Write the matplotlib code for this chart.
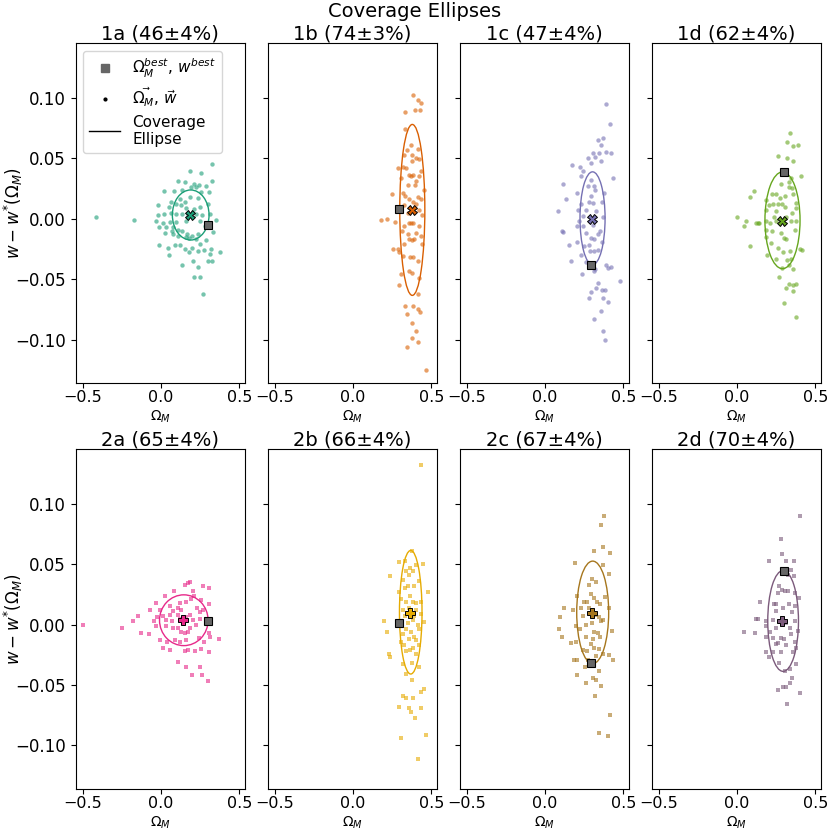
import os

os.environ.setdefault("MPLCONFIGDIR", "/tmp/matplotlib")

import matplotlib

matplotlib.use("Agg")
import matplotlib.pyplot as plt
from matplotlib.lines import Line2D
from matplotlib.patches import Ellipse

# sample points (Omega_M, w - w*(Omega_M)), one list per panel
pts_1a = [
    (-0.417, 0.001), (-0.170, -0.001), (0.326, 0.045), (0.187, 0.039), (0.255, 0.038),
    (0.109, 0.031), (0.151, 0.030), (0.328, 0.031), (0.209, 0.029), (0.243, 0.028),
    (0.017, 0.023), (0.081, 0.023), (0.136, 0.024), (0.194, 0.026), (0.226, 0.026), (0.289, 0.027),
    (0.066, 0.014), (0.119, 0.016), (0.151, 0.014), (0.187, 0.018), (0.234, 0.017), (0.257, 0.022),
    (0.306, 0.022), (-0.019, 0.011), (0.051, 0.010), (0.098, 0.012), (0.130, 0.011), (0.162, 0.009),
    (0.211, 0.008), (0.247, 0.010), (0.300, 0.012), (-0.019, 0.003), (0.019, 0.004), (0.066, 0.005),
    (0.098, 0.004), (0.136, 0.004), (0.172, 0.003), (0.221, 0.004), (0.264, 0.003), (0.311, 0.004),
    (-0.030, -0.002), (0.013, -0.004), (0.055, -0.003), (0.098, -0.003), (0.162, -0.002),
    (0.247, -0.002), (0.279, -0.006), (0.349, -0.001), (-0.013, -0.007), (0.034, -0.007),
    (0.077, -0.007), (0.109, -0.009), (0.136, -0.010), (0.166, -0.013), (0.200, -0.014),
    (0.236, -0.013), (0.332, -0.011), (0.023, -0.012), (0.072, -0.010), (0.077, -0.013),
    (0.109, -0.014), (0.162, -0.015), (0.179, -0.016), (0.226, -0.017), (0.289, -0.018),
    (-0.013, -0.022), (0.045, -0.024), (0.119, -0.022), (0.151, -0.025), (0.200, -0.024),
    (0.247, -0.021), (0.272, -0.026), (0.321, -0.025), (0.374, -0.028), (0.049, -0.030),
    (0.087, -0.022), (0.179, -0.028), (0.234, -0.027), (0.311, -0.029), (0.136, -0.038),
    (0.204, -0.035), (0.238, -0.040), (0.300, -0.035), (0.323, -0.035), (0.213, -0.048),
    (0.247, -0.048), (0.268, -0.062),
]
pts_1b = [
    (0.385, 0.102), (0.413, 0.098), (0.434, 0.096), (0.334, 0.088), (0.396, 0.090), (0.426, 0.0895),
    (0.334, 0.074), (0.372, 0.061), (0.345, 0.057), (0.417, 0.058), (0.328, 0.053), (0.379, 0.053),
    (0.404, 0.050), (0.423, 0.049), (0.377, 0.048), (0.317, 0.043), (0.285, 0.042), (0.338, 0.042),
    (0.355, 0.036), (0.370, 0.035), (0.385, 0.036), (0.419, 0.035), (0.434, 0.039), (0.306, 0.034),
    (0.402, 0.031), (0.398, 0.028), (0.349, 0.028), (0.247, 0.020), (0.317, 0.021), (0.334, 0.019),
    (0.413, 0.018), (0.455, 0.024), (0.360, 0.016), (0.381, 0.014), (0.434, 0.016), (0.328, 0.011),
    (0.402, 0.012), (0.179, -0.001), (0.215, 0.000), (0.266, -0.003), (0.349, 0.005), (0.423, 0.007),
    (0.440, 0.003), (0.355, -0.004), (0.370, -0.004), (0.385, -0.004), (0.328, -0.006),
    (0.419, -0.006), (0.313, -0.010), (0.434, -0.014), (0.349, -0.013), (0.402, -0.012),
    (0.360, -0.017), (0.377, -0.018), (0.391, -0.017), (0.440, -0.021), (0.257, -0.025),
    (0.285, -0.025), (0.296, -0.028), (0.328, -0.021), (0.321, -0.031), (0.364, -0.032),
    (0.381, -0.032), (0.417, -0.035), (0.360, -0.043), (0.377, -0.045), (0.306, -0.046),
    (0.423, -0.049), (0.296, -0.055), (0.413, -0.062), (0.334, -0.072), (0.385, -0.072),
    (0.413, -0.075), (0.345, -0.079), (0.430, -0.077), (0.377, -0.086), (0.402, -0.093),
    (0.374, -0.099), (0.413, -0.102), (0.345, -0.106), (0.464, -0.125),
]
pts_1c = [
    (0.391, 0.095), (0.413, 0.078), (0.372, 0.067), (0.336, 0.065), (0.360, 0.061), (0.391, 0.055),
    (0.421, 0.054), (0.304, 0.054), (0.347, 0.054), (0.272, 0.050), (0.319, 0.051), (0.357, 0.048),
    (0.172, 0.044), (0.223, 0.043), (0.294, 0.046), (0.240, 0.039), (0.432, 0.034), (0.113, 0.029),
    (0.232, 0.035), (0.291, 0.032), (0.311, 0.027), (0.274, 0.027), (0.202, 0.021), (0.319, 0.024),
    (0.377, 0.021), (0.291, 0.019), (0.134, 0.016), (0.230, 0.012), (0.283, 0.014), (0.309, 0.013),
    (0.362, 0.014), (0.209, 0.007), (0.262, 0.007), (0.326, 0.006), (0.083, 0.006), (0.219, -0.002),
    (0.245, 0.002), (0.372, 0.001), (0.106, -0.010), (0.113, -0.011), (0.204, -0.006),
    (0.240, -0.006), (0.304, -0.005), (0.340, -0.013), (0.262, -0.012), (0.294, -0.016),
    (0.315, -0.017), (0.351, -0.010), (0.155, -0.022), (0.204, -0.019), (0.247, -0.023),
    (0.279, -0.022), (0.364, -0.019), (0.230, -0.030), (0.287, -0.027), (0.315, -0.027),
    (0.340, -0.026), (0.164, -0.035), (0.262, -0.036), (0.391, -0.038), (0.423, -0.040),
    (0.404, -0.041), (0.319, -0.042), (0.234, -0.046), (0.311, -0.043), (0.481, -0.052),
    (0.340, -0.053), (0.326, -0.057), (0.362, -0.059), (0.383, -0.059), (0.294, -0.061),
    (0.283, -0.066), (0.372, -0.066), (0.404, -0.069), (0.357, -0.076), (0.311, -0.083),
    (0.372, -0.093), (0.381, -0.100),
]
pts_1d = [
    (0.340, 0.071), (0.319, 0.063), (0.357, 0.060), (0.389, 0.061), (0.260, 0.052), (0.319, 0.050),
    (0.357, 0.048), (0.343, 0.034), (0.409, 0.035), (0.283, 0.029), (0.332, 0.030), (0.353, 0.025),
    (0.357, 0.020), (0.332, 0.026), (0.111, 0.023), (0.081, 0.018), (0.223, 0.020), (0.251, 0.020),
    (0.272, 0.017), (0.187, 0.015), (0.304, 0.019), (0.374, 0.013), (0.230, 0.012), (0.204, 0.011),
    (0.262, 0.012), (0.289, 0.012), (0.304, 0.010), (0.379, 0.009), (0.187, 0.007), (0.251, 0.006),
    (0.234, 0.001), (0.353, 0.005), (0.000, 0.001), (0.060, -0.002), (0.043, -0.006),
    (0.119, -0.004), (0.134, -0.004), (0.140, -0.004), (0.183, -0.002), (0.209, -0.004),
    (0.251, -0.002), (0.315, 0.001), (0.347, -0.002), (0.379, -0.002), (0.187, -0.009),
    (0.226, -0.010), (0.279, -0.012), (0.298, -0.016), (0.315, -0.017), (0.368, -0.009),
    (0.187, -0.015), (0.219, -0.020), (0.262, -0.024), (0.081, -0.023), (0.294, -0.028),
    (0.336, -0.027), (0.400, -0.025), (0.417, -0.026), (0.251, -0.033), (0.319, -0.034),
    (0.347, -0.033), (0.191, -0.030), (0.289, -0.041), (0.332, -0.038), (0.357, -0.042),
    (0.268, -0.048), (0.332, -0.054), (0.357, -0.055), (0.379, -0.054), (0.315, -0.057),
    (0.357, -0.060), (0.300, -0.070), (0.379, -0.081),
]
pts_2a = [
    (-0.498, 0.000), (-0.247, -0.003), (-0.179, 0.003), (-0.149, 0.007), (-0.130, -0.007),
    (0.187, 0.035), (0.172, 0.034), (0.151, 0.033), (0.268, 0.032), (0.306, 0.030), (0.081, 0.028),
    (0.023, 0.024), (0.204, 0.028), (0.213, 0.024), (-0.030, 0.018), (0.119, 0.018), (0.162, 0.019),
    (0.194, 0.021), (0.257, 0.020), (0.306, 0.017), (0.060, 0.015), (0.109, 0.014), (0.230, 0.014),
    (0.268, 0.012), (-0.072, 0.012), (-0.009, 0.012), (0.077, 0.011), (0.130, 0.012),
    (-0.026, 0.006), (0.013, 0.007), (0.060, 0.008), (0.109, 0.008), (0.183, 0.008), (0.247, 0.010),
    (-0.045, 0.003), (0.034, 0.004), (0.072, 0.003), (0.119, 0.005), (0.162, 0.006), (0.204, 0.004),
    (0.247, 0.005), (-0.077, -0.008), (-0.034, -0.001), (0.034, -0.001), (0.077, -0.003),
    (0.221, 0.000), (0.306, -0.007), (0.109, -0.003), (0.130, -0.006), (0.151, -0.007),
    (0.172, -0.006), (0.187, -0.003), (-0.004, -0.013), (0.038, -0.014), (0.087, -0.013),
    (0.119, -0.014), (0.162, -0.013), (0.243, -0.011), (0.272, -0.014), (0.368, -0.012),
    (0.315, -0.010), (0.013, -0.019), (0.060, -0.021), (0.151, -0.022), (0.172, -0.021),
    (0.215, -0.022), (0.306, -0.023), (0.257, -0.020), (0.109, -0.031), (0.157, -0.035),
    (0.247, -0.035), (0.198, -0.042), (0.260, -0.042), (0.298, -0.047),
]
pts_2b = [
    (0.434, 0.132), (0.374, 0.061), (0.334, 0.053), (0.296, 0.052), (0.364, 0.047), (0.402, 0.049),
    (0.445, 0.050), (0.236, 0.040), (0.338, 0.044), (0.385, 0.044), (0.360, 0.041), (0.317, 0.037),
    (0.423, 0.036), (0.349, 0.032), (0.391, 0.032), (0.334, 0.030), (0.477, 0.027), (0.296, 0.027),
    (0.364, 0.024), (0.381, 0.019), (0.306, 0.021), (0.338, 0.019), (0.402, 0.018), (0.434, 0.019),
    (0.317, 0.012), (0.360, 0.014), (0.402, 0.012), (0.391, 0.007), (0.434, 0.009), (0.334, 0.007),
    (0.196, 0.003), (0.381, 0.004), (0.349, 0.001), (0.455, 0.002), (0.413, 0.000), (0.215, -0.006),
    (0.338, -0.004), (0.370, -0.006), (0.423, -0.004), (0.317, -0.008), (0.391, -0.010),
    (0.306, -0.014), (0.355, -0.012), (0.402, -0.013), (0.228, -0.024), (0.236, -0.027),
    (0.328, -0.017), (0.381, -0.019), (0.423, -0.017), (0.338, -0.022), (0.364, -0.021),
    (0.402, -0.024), (0.317, -0.033), (0.377, -0.032), (0.423, -0.035), (0.338, -0.041),
    (0.374, -0.046), (0.434, -0.056), (0.455, -0.053), (0.317, -0.059), (0.338, -0.061),
    (0.385, -0.061), (0.360, -0.069), (0.296, -0.068), (0.434, -0.069), (0.370, -0.072),
    (0.394, -0.077), (0.304, -0.094), (0.466, -0.091), (0.415, -0.111),
]
pts_2c = [
    (0.374, 0.090), (0.355, 0.082), (0.315, 0.061), (0.372, 0.064), (0.415, 0.059), (0.194, 0.051),
    (0.368, 0.049), (0.411, 0.042), (0.298, 0.038), (0.326, 0.035), (0.283, 0.033), (0.383, 0.023),
    (0.294, 0.025), (0.315, 0.022), (0.330, 0.019), (0.204, 0.024), (0.251, 0.019), (0.266, 0.019),
    (0.351, 0.017), (0.119, 0.014), (0.177, 0.012), (0.406, 0.014), (0.230, 0.014), (0.283, 0.014),
    (0.098, 0.006), (0.240, 0.007), (0.326, 0.008), (0.345, 0.006), (0.368, 0.004), (0.198, -0.001),
    (0.262, 0.000), (0.300, 0.001), (0.357, 0.003), (0.087, -0.004), (0.226, -0.004),
    (0.428, -0.005), (0.315, -0.006), (0.336, -0.007), (0.109, -0.010), (0.262, -0.010),
    (0.304, -0.012), (0.351, -0.010), (0.166, -0.015), (0.198, -0.014), (0.294, -0.016),
    (0.315, -0.019), (0.347, -0.020), (0.245, -0.021), (0.266, -0.022), (0.368, -0.024),
    (0.326, -0.026), (0.406, -0.025), (0.183, -0.029), (0.202, -0.029), (0.272, -0.029),
    (0.432, -0.029), (0.255, -0.035), (0.347, -0.038), (0.204, -0.042), (0.304, -0.044),
    (0.326, -0.046), (0.262, -0.048), (0.355, -0.051), (0.319, -0.059), (0.415, -0.075),
    (0.345, -0.090), (0.404, -0.092),
]
pts_2d = [
    (0.402, 0.090), (0.283, 0.071), (0.204, 0.053), (0.285, 0.058), (0.311, 0.053), (0.362, 0.053),
    (0.343, 0.045), (0.326, 0.041), (0.362, 0.040), (0.266, 0.032), (0.289, 0.029), (0.306, 0.028),
    (0.326, 0.028), (0.262, 0.026), (0.372, 0.026), (0.145, 0.019), (0.396, 0.022), (0.236, 0.017),
    (0.251, 0.017), (0.332, 0.017), (0.368, 0.015), (0.294, 0.014), (0.353, 0.010), (0.251, 0.011),
    (0.119, 0.005), (0.134, 0.005), (0.183, 0.003), (0.230, 0.004), (0.315, 0.001), (0.368, 0.003),
    (0.045, -0.006), (0.113, -0.007), (0.183, -0.001), (0.209, -0.006), (0.251, -0.003),
    (0.336, -0.003), (0.389, -0.005), (0.187, -0.010), (0.230, -0.011), (0.283, -0.011),
    (0.298, -0.012), (0.347, -0.008), (0.251, -0.016), (0.262, -0.015), (0.311, -0.017),
    (0.368, -0.014), (0.183, -0.023), (0.204, -0.027), (0.230, -0.023), (0.283, -0.023),
    (0.357, -0.023), (0.379, -0.019), (0.268, -0.032), (0.304, -0.038), (0.336, -0.037),
    (0.379, -0.033), (0.353, -0.044), (0.336, -0.048), (0.315, -0.052), (0.294, -0.052),
    (0.264, -0.054), (0.404, -0.057), (0.321, -0.066),
]

panels = ["1a", "1b", "1c", "1d", "2a", "2b", "2c", "2d"]
coverage = ["46±4%", "74±3%", "47±4%", "62±4%", "65±4%", "66±4%", "67±4%", "70±4%"]
points = [pts_1a, pts_1b, pts_1c, pts_1d, pts_2a, pts_2b, pts_2c, pts_2d]
mean_pts = [(0.187, 0.003), (0.374, 0.0075), (0.302, 0.000), (0.289, -0.0017),
            (0.143, 0.0036), (0.366, 0.0097), (0.302, 0.0099), (0.289, 0.0033)]
best_pts = [(0.298, -0.005), (0.296, 0.008), (0.296, -0.0384), (0.298, 0.0384),
            (0.298, 0.0028), (0.296, 0.0014), (0.296, -0.032), (0.298, 0.0442)]
# ellipse centre x, centre y, half width, half height
ellipses = [(0.189, 0.003, 0.117, 0.0207), (0.378, 0.0072, 0.080, 0.0707),
            (0.303, 0.0003, 0.080, 0.0384), (0.290, -0.0014, 0.112, 0.040),
            (0.145, 0.0036, 0.155, 0.021), (0.368, 0.0102, 0.072, 0.0511),
            (0.304, 0.0101, 0.102, 0.0424), (0.294, 0.003, 0.098, 0.0417)]
colors = ["#1b9e77", "#d95f02", "#7570b3", "#66a61e",
          "#e7298a", "#e6ab02", "#a6761d", "#7b5a7b"]

fig, axes = plt.subplots(2, 4, figsize=(8.3, 8.3), dpi=100, sharey=True)
fig.subplots_adjust(left=0.0912, right=0.9892, bottom=0.0494, top=0.9478,
                    wspace=0.1335, hspace=0.195)

for i, ax in enumerate(axes.flat):
    row = i // 4
    c = colors[i]
    xs = [p[0] for p in points[i]]
    ys = [p[1] for p in points[i]]
    marker = "o" if row == 0 else "s"
    ax.scatter(xs, ys, s=10, marker=marker, color=c, alpha=0.6, linewidths=0)
    cx, cy, hw, hh = ellipses[i]
    ax.add_patch(Ellipse((cx, cy), 2 * hw, 2 * hh, fill=False, edgecolor=c, linewidth=1))
    ax.plot(best_pts[i][0], best_pts[i][1], marker="s", markersize=6,
            markerfacecolor="#666666", markeredgecolor="black", markeredgewidth=0.8, zorder=4)
    ax.plot(mean_pts[i][0], mean_pts[i][1], marker="X" if row == 0 else "P", markersize=6.5,
            markerfacecolor=c, markeredgecolor="black", markeredgewidth=0.7, zorder=5)
    ax.set_title(f"{panels[i]} ({coverage[i]})", fontsize=14, pad=2)
    ax.set_xlim(-0.545, 0.536)
    ax.set_ylim(-0.136, 0.145)
    ax.set_xticks([-0.5, 0.0, 0.5])
    ax.set_yticks([-0.10, -0.05, 0.0, 0.05, 0.10])
    ax.tick_params(axis="y", labelsize=12)
    ax.tick_params(axis="x", labelsize=11.5, pad=1.5)
    ax.set_xlabel(r"$\Omega_M$", fontsize=10)
    ax.xaxis.set_label_coords(0.5, -0.076)
    if i % 4 == 0:
        ax.set_ylabel(r"$w - w^{*}(\Omega_M)$", fontsize=12)
        ax.yaxis.set_label_coords(-0.30, 0.5)

handles = [
    Line2D([], [], linestyle="none", marker="s", markersize=6,
           markerfacecolor="#666666", markeredgecolor="#666666"),
    Line2D([], [], linestyle="none", marker=".", markersize=4, color="black"),
    Line2D([], [], color="black", linewidth=1),
]
labels = [r"$\Omega_M^{best}$, $w^{best}$", r"$\vec{\Omega_M}$, $\vec{w}$", "Coverage\nEllipse"]
axes[0, 0].legend(handles, labels, loc="upper left", fontsize=11, labelspacing=0.35,
                  borderaxespad=0.5)

fig.suptitle("Coverage Ellipses", fontsize=14, y=0.998)
fig.savefig("out.png", dpi=100)
plt.close(fig)
